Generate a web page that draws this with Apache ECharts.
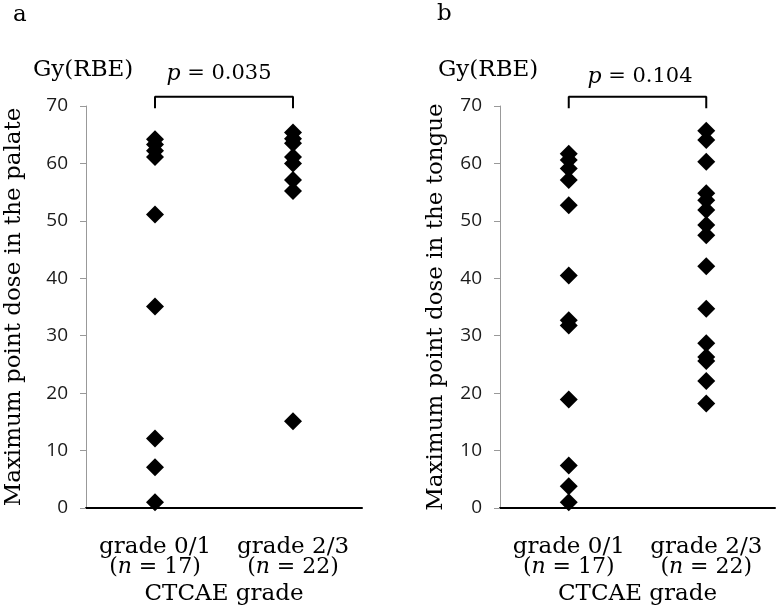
<!DOCTYPE html>
<html><head><meta charset="utf-8">
<script src="https://cdn.jsdelivr.net/npm/echarts@6/dist/echarts.min.js"></script>
<style>html,body{margin:0;padding:0;background:#fff}#c{width:779px;height:609px}</style>
</head><body><div id="c"></div>
<script>
// ---- data ----
const categories = ['grade 0/1', 'grade 2/3'];
const groupN = [17, 22];
const yTicks = [0, 10, 20, 30, 40, 50, 60, 70];
const palateGrade01 = [64.2, 63.3, 62.2, 61.1, 51.1, 35.1, 12.1, 7.1, 1.0];
const palateGrade23 = [65.4, 64.3, 63.5, 61.1, 60.0, 57.1, 55.2, 15.1];
const tongueGrade01 = [61.7, 60.6, 59.1, 57.1, 52.7, 40.5, 32.7, 31.8, 18.9, 7.4, 3.8, 1.0];
const tongueGrade23 = [65.7, 64.1, 60.3, 54.8, 53.6, 51.9, 49.3, 47.5, 42.1, 34.7, 28.7, 26.3, 25.6, 22.1, 18.2];
const pValues = ['0.035', '0.104'];
const panelLetters = ['a', 'b'];
const yNames = ['Maximum point dose in the palate', 'Maximum point dose in the tongue'];
const xName = 'CTCAE grade';
const unitLabel = 'Gy(RBE)';
const bracketLow = 69.6, bracketHigh = 71.6;

const SERIF = '"DejaVu Serif", "Liberation Serif", serif';
const SANS = '"Open Sans", "Liberation Sans", sans-serif';

const grids = [
  { left: 86, top: 106, width: 276, height: 402, containLabel: false, outerBoundsMode: 'none' },
  { left: 500, top: 106, width: 275, height: 402, containLabel: false, outerBoundsMode: 'none' }
];

function xAxisFor(i) {
  return {
    type: 'category', gridIndex: i, data: categories,
    axisLine: { lineStyle: { color: '#000', width: 2 } },
    axisTick: { show: false },
    axisLabel: {
      interval: 0, margin: 29, lineHeight: 20,
      formatter: (v, idx) => '{a|' + v + '}\n{b|(}{i|n}{b| = ' + groupN[idx] + ')}',
      rich: {
        a: { fontFamily: SERIF, fontSize: 23, color: '#000', lineHeight: 20 },
        b: { fontFamily: SERIF, fontSize: 22, color: '#000', lineHeight: 20 },
        i: { fontFamily: SERIF, fontSize: 22, color: '#000', fontStyle: 'italic', lineHeight: 20 }
      }
    },
    name: xName, nameLocation: 'middle', nameGap: 73,
    nameTextStyle: { fontFamily: SERIF, fontSize: 23, color: '#000' }
  };
}
function yAxisFor(i) {
  return {
    type: 'value', gridIndex: i, min: yTicks[0], max: yTicks[yTicks.length - 1], interval: 10,
    axisLine: { show: true, lineStyle: { color: '#999', width: 1 } },
    axisTick: { show: true, length: 6, lineStyle: { color: '#999' } },
    splitLine: { show: false },
    axisLabel: { margin: 18, fontFamily: SANS, fontSize: 19, color: '#1a1a1a' },
    name: yNames[i], nameLocation: 'middle', nameRotate: 90, nameGap: i === 0 ? 60 : 52,
    nameTextStyle: { fontFamily: SERIF, fontSize: 23, color: '#000' }
  };
}
function scatter(i, cat, vals) {
  return {
    type: 'scatter', xAxisIndex: i, yAxisIndex: i, symbol: 'diamond', symbolSize: 18,
    itemStyle: { color: '#000', opacity: 1 }, silent: true,
    data: vals.map(v => [categories[cat], v])
  };
}
function bracket(i) {
  return {
    type: 'line', xAxisIndex: i, yAxisIndex: i, clip: false, symbol: 'none', silent: true,
    lineStyle: { color: '#000', width: 2 },
    data: [[categories[0], bracketLow], [categories[0], bracketHigh],
           [categories[1], bracketHigh], [categories[1], bracketLow]]
  };
}

const option = {
  backgroundColor: '#fff',
  animation: false,
  grid: grids,
  xAxis: [xAxisFor(0), xAxisFor(1)],
  yAxis: [yAxisFor(0), yAxisFor(1)],
  series: [
    scatter(0, 0, palateGrade01), scatter(0, 1, palateGrade23), bracket(0),
    scatter(1, 0, tongueGrade01), scatter(1, 1, tongueGrade23), bracket(1)
  ],
  graphic: [
    { type: 'text', left: 13, top: 4, style: { text: panelLetters[0], font: '23px ' + SERIF, fill: '#000' } },
    { type: 'text', left: 437, top: 3, style: { text: panelLetters[1], font: '23px ' + SERIF, fill: '#000' } },
    { type: 'text', left: 33, top: 59, style: { text: unitLabel, font: '23px ' + SERIF, fill: '#000' } },
    { type: 'text', left: 438, top: 59, style: { text: unitLabel, font: '23px ' + SERIF, fill: '#000' } },
    { type: 'text', x: 219, y: 74, style: {
        text: '{i|p} = ' + pValues[0], align: 'center', verticalAlign: 'middle',
        font: '21px ' + SERIF, fill: '#000',
        rich: { i: { fontStyle: 'italic', fontFamily: SERIF, fontSize: 22 } } } },
    { type: 'text', x: 640, y: 77, style: {
        text: '{i|p} = ' + pValues[1], align: 'center', verticalAlign: 'middle',
        font: '21px ' + SERIF, fill: '#000',
        rich: { i: { fontStyle: 'italic', fontFamily: SERIF, fontSize: 22 } } } }
  ]
};
const chart = echarts.init(document.getElementById('c'), null, { renderer: 'canvas' });
chart.setOption(option);
</script></body></html>
